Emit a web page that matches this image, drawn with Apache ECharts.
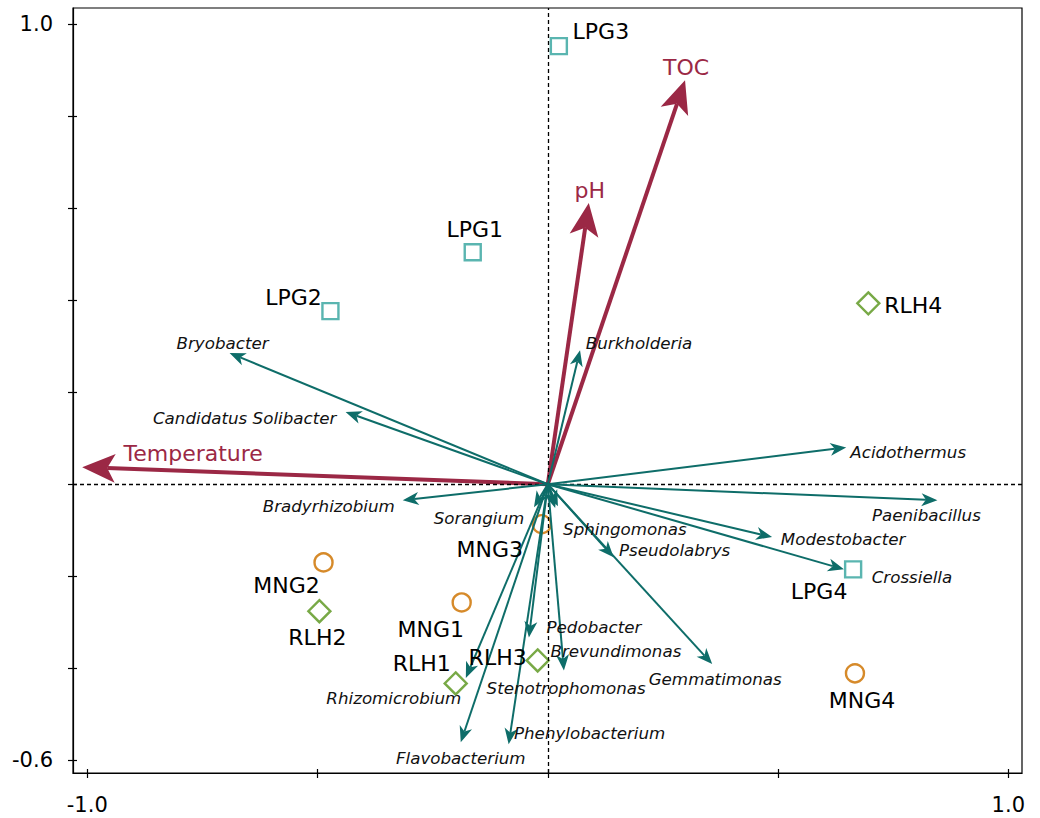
<!DOCTYPE html>
<html>
<head>
<meta charset="utf-8">
<title>RDA biplot</title>
<script src="https://cdn.jsdelivr.net/npm/echarts@6/dist/echarts.min.js"></script>
<style>
  html, body { margin: 0; padding: 0; background: #fff; }
  #chart { width: 1040px; height: 818px; }
</style>
</head>
<body>
<div id="chart"></div>
<script>
// ---- data ----
const siteNames = ['LPG1', 'LPG2', 'LPG3', 'LPG4', 'MNG1', 'MNG2', 'MNG3', 'MNG4', 'RLH1', 'RLH2', 'RLH3', 'RLH4'];
const siteX = [-0.163, -0.472, 0.024, 0.663, -0.187, -0.487, -0.013, 0.667, -0.200, -0.496, -0.022, 0.696];
const siteY = [0.504, 0.376, 0.952, -0.185, -0.257, -0.170, -0.087, -0.411, -0.433, -0.276, -0.383, 0.393];

const envNames = ['Temperature', 'pH', 'TOC'];
const envX = [-1.011, 0.089, 0.298];
const envY = [0.037, 0.611, 0.878];

const speciesNames = ['Bryobacter', 'Candidatus Solibacter', 'Burkholderia', 'Acidothermus', 'Paenibacillus',
  'Modestobacter', 'Crossiella', 'Gemmatimonas', 'Pseudolabrys', 'Sphingomonas', 'Sorangium', 'Bradyrhizobium',
  'Pedobacter', 'Brevundimonas', 'Stenotrophomonas', 'Rhizomicrobium', 'Phenylobacterium', 'Flavobacterium'];
const speciesX = [-0.691, -0.439, 0.070, 0.648, 0.846, 0.487, 0.643, 0.357, 0.143, 0.022, -0.030, -0.315,
  -0.041, 0.035, 0.016, -0.178, -0.085, -0.189];
const speciesY = [0.285, 0.157, 0.291, 0.080, -0.035, -0.115, -0.185, -0.391, -0.159, -0.048, -0.050, -0.035,
  -0.333, -0.405, -0.052, -0.421, -0.565, -0.561];

const xTicks = [-1.0, -0.5, 0, 0.5, 1.0];
const xTickLabels = [-1.0, 1.0];
const yTicks = [-0.6, -0.4, -0.2, 0, 0.2, 0.4, 0.6, 0.8, 1.0];
const yTickLabels = [-0.6, 1.0];

// ---- layout / style ----
const FONT = 'DejaVu Sans';
const X_RANGE = [-1.031, 1.0297];
const Y_RANGE = [-0.6276, 1.0348];
const GRID = { left: 73, top: 8, right: 18, bottom: 45 };

const COL_ENV = '#9b2845';
const COL_SPECIES = '#0e6d69';
const siteStyle = {
  LPG: { symbol: 'rect', size: 16, color: '#5ab5b0' },
  MNG: { symbol: 'circle', size: 18, color: '#d68a2a' },
  RLH: { symbol: 'diamond', size: 22, color: '#78a946' }
};

// text placement, pixel offsets of each label centre from its point
const siteLabelOffset = [[2, -23], [-37, -14], [42, -15], [-34, 22], [-31, 27], [-37, 23], [-52, 25], [7, 27],
  [-34, -20], [-2, 26], [-40, -3], [45, 2]];
const envLabelOffset = [[111, -14], [1, -13], [1, -13]];
const speciesLabelOffset = [[-7, -10], [-101, 6], [59, -7], [62, 5], [-11, 15], [71, 2], [68, 8], [3, 15],
  [61, -7], [67, 23], [-55, 11], [-74, 6], [65, -10], [52, -20], [11, 180], [-72, 20], [81, -11], [0, 16]];

function xy(xs, ys) { return xs.map((x, i) => [x, ys[i]]); }

// arrow from the origin to the data point; the head tip sits exactly on the point
function arrowRenderer(headLen, headHalf, notch, width, color) {
  return function (params, api) {
    const o = api.coord([0, 0]);
    const t = api.coord([api.value(0), api.value(1)]);
    const dx = t[0] - o[0], dy = t[1] - o[1];
    const len = Math.hypot(dx, dy) || 1;
    const ux = dx / len, uy = dy / len;
    const px = -uy, py = ux;
    const bx = t[0] - ux * headLen, by = t[1] - uy * headLen;
    const nx = t[0] - ux * (headLen - notch), ny = t[1] - uy * (headLen - notch);
    return {
      type: 'group',
      children: [
        { type: 'line', shape: { x1: o[0], y1: o[1], x2: nx, y2: ny },
          style: { stroke: color, lineWidth: width, lineCap: 'butt' } },
        { type: 'polygon',
          shape: { points: [[t[0], t[1]], [bx + px * headHalf, by + py * headHalf], [nx, ny], [bx - px * headHalf, by - py * headHalf]] },
          style: { fill: color } }
      ]
    };
  };
}

function labelSeries(names, xs, ys, offsets, textStyle) {
  return {
    type: 'scatter', xAxisIndex: 0, yAxisIndex: 0, silent: true, z: 10,
    symbol: 'circle', symbolSize: 0.01,
    itemStyle: { color: 'rgba(0,0,0,0)', opacity: 1 },
    data: names.map((n, i) => ({
      name: n, value: [xs[i], ys[i]],
      label: { offset: offsets[i] }
    })),
    label: Object.assign({
      show: true, position: 'inside', formatter: p => p.name,
      align: 'center', verticalAlign: 'middle', fontFamily: FONT,
      textBorderWidth: 0, opacity: 1
    }, textStyle)
  };
}

const groups = ['LPG', 'MNG', 'RLH'];
const siteSeries = groups.map(g => {
  const st = siteStyle[g];
  const idx = siteNames.map((n, i) => n.startsWith(g) ? i : -1).filter(i => i >= 0);
  return {
    type: 'scatter', name: g, xAxisIndex: 0, yAxisIndex: 0, z: 3,
    symbol: st.symbol, symbolSize: st.size,
    itemStyle: { color: 'rgba(0,0,0,0)', borderColor: st.color, borderWidth: 2.4, opacity: 1 },
    data: idx.map(i => [siteX[i], siteY[i]])
  };
});

const axisCommon = { type: 'value', splitLine: { show: false } };

const option = {
  backgroundColor: '#fff',
  animation: false,
  grid: [
    Object.assign({ show: true, borderColor: '#000', borderWidth: 1.2, containLabel: false }, GRID),
    Object.assign({ show: false, containLabel: false }, GRID)
  ],
  xAxis: [
    Object.assign({}, axisCommon, {
      gridIndex: 0, min: X_RANGE[0], max: X_RANGE[1], position: 'bottom',
      axisLine: { show: true, onZero: false, lineStyle: { color: '#000', width: 1.2 } },
      axisTick: { show: true, customValues: xTicks, length: 5, lineStyle: { color: '#000', width: 1.2 } },
      axisLabel: { show: true, customValues: xTickLabels, formatter: v => v.toFixed(1), fontSize: 21,
        color: '#000', fontFamily: FONT, margin: 21 }
    }),
    Object.assign({}, axisCommon, {
      gridIndex: 1, min: X_RANGE[0], max: X_RANGE[1], position: 'bottom',
      axisLine: { show: false, onZero: false },
      axisTick: { show: true, inside: true, customValues: xTicks, length: 4, lineStyle: { color: '#000', width: 1.2 } },
      axisLabel: { show: false }
    })
  ],
  yAxis: [
    Object.assign({}, axisCommon, {
      gridIndex: 0, min: Y_RANGE[0], max: Y_RANGE[1], position: 'left',
      axisLine: { show: true, onZero: false, lineStyle: { color: '#000', width: 1.2 } },
      axisTick: { show: true, customValues: yTicks, length: 5, lineStyle: { color: '#000', width: 1.2 } },
      axisLabel: { show: true, customValues: yTickLabels, formatter: v => v.toFixed(1), fontSize: 21,
        color: '#000', fontFamily: FONT, margin: 20 }
    }),
    Object.assign({}, axisCommon, {
      gridIndex: 1, min: Y_RANGE[0], max: Y_RANGE[1], position: 'left',
      axisLine: { show: false, onZero: false },
      axisTick: { show: true, inside: true, customValues: yTicks, length: 4, lineStyle: { color: '#000', width: 1.2 } },
      axisLabel: { show: false }
    })
  ],
  series: [
    // dashed zero lines
    {
      type: 'scatter', xAxisIndex: 0, yAxisIndex: 0, data: [], z: 1, silent: true,
      markLine: {
        silent: true, symbol: 'none', animation: false,
        label: { show: false },
        lineStyle: { color: '#000', width: 1.3, type: [4, 3], opacity: 1 },
        data: [{ xAxis: 0 }, { yAxis: 0 }]
      }
    },
    ...siteSeries,
    {
      type: 'custom', name: 'environment', xAxisIndex: 0, yAxisIndex: 0, z: 4, silent: true,
      renderItem: arrowRenderer(33, 14.5, 8, 4, COL_ENV),
      encode: { x: 0, y: 1 },
      data: xy(envX, envY)
    },
    {
      type: 'custom', name: 'species', xAxisIndex: 0, yAxisIndex: 0, z: 5, silent: true,
      renderItem: arrowRenderer(16, 6.5, 4.5, 2, COL_SPECIES),
      encode: { x: 0, y: 1 },
      data: xy(speciesX, speciesY)
    },
    labelSeries(siteNames, siteX, siteY, siteLabelOffset, { fontSize: 22, color: '#000' }),
    labelSeries(envNames, envX, envY, envLabelOffset, { fontSize: 22, color: COL_ENV }),
    labelSeries(speciesNames, speciesX, speciesY, speciesLabelOffset, { fontSize: 16.7, fontStyle: 'italic', color: '#111' })
  ]
};

const chart = echarts.init(document.getElementById('chart'), null, { renderer: 'svg', width: 1040, height: 818 });
chart.setOption(option);
</script>
</body>
</html>
